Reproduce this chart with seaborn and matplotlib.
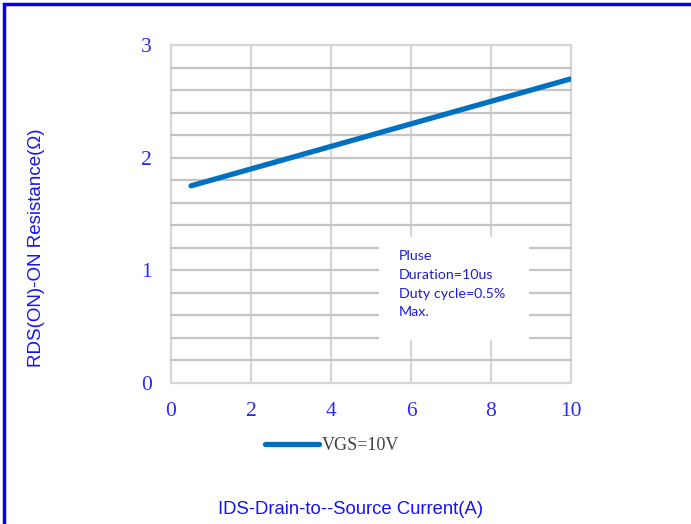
import matplotlib
matplotlib.use("Agg")
import matplotlib.pyplot as plt
import matplotlib.patches as mpatches
import pandas as pd
import seaborn as sns

# values
current = [0.5, 2, 4, 6, 8, 10]
resistance = [1.75, 1.90, 2.10, 2.30, 2.50, 2.70]
x_ticks = [0, 2, 4, 6, 8, 10]
y_ticks = [0, 1, 2, 3]
series_label = "VGS=10V"
note_lines = ["Pluse", "Duration=10us", "Duty cycle=0.5%", "Max."]

df = pd.DataFrame({"IDS": current, "RDS": resistance, "Curve": series_label})

sns.set_style("white")
plt.rcParams["font.family"] = ["Liberation Serif", "DejaVu Serif"]

fig = plt.figure(figsize=(6.91, 5.24), dpi=100)
ax = fig.add_axes([171 / 691, 1 - 383 / 524, 400 / 691, 338 / 524])

tick_blue = "#2a2af0"
label_blue = "#1414f0"

# grid
for xv in x_ticks:
    ax.axvline(xv, color="#d6d6d6", lw=1.6, zorder=0, clip_on=False)
for i in range(16):
    yv = i * 0.2
    ax.axhline(yv, color="#c4c4c4" if 0 < i < 15 else "#d6d6d6", lw=1.6, zorder=0, clip_on=False)

sns.lineplot(data=df, x="IDS", y="RDS", hue="Curve", palette=["#0070c0"],
             lw=3.8, ax=ax, zorder=3, legend=False)
ax.lines[-1].set_solid_capstyle("round")

ax.set_xlim(0, 10)
ax.set_ylim(0, 3)
ax.set_xticks(x_ticks)
ax.set_yticks(y_ticks)
ax.tick_params(axis="both", length=0, labelsize=15.5, labelcolor=tick_blue)
ax.tick_params(axis="x", pad=14)
ax.tick_params(axis="y", pad=14)
for s in ax.spines.values():
    s.set_visible(False)
ax.set_xlabel("")
ax.set_ylabel("")

# note box
ax.add_patch(mpatches.Rectangle((5.2, 0.38), 3.75, 0.92, facecolor="white",
                                edgecolor="none", zorder=2))
ax.text(5.7, 1.18, "\n".join(note_lines), ha="left", va="top", fontsize=10.3,
        color="#1f1fcf", family=["Lato", "DejaVu Sans"], linespacing=1.68, zorder=4)

# legend below the plot
handle = plt.Line2D([], [], color="#0070c0", lw=3.8, solid_capstyle="round")
fig.legend([handle], [series_label], loc="center", bbox_to_anchor=(332 / 691, 1 - 446 / 524),
           frameon=False, fontsize=13, handlelength=3.0, handletextpad=0.1,
           labelcolor="#404040")

fig.text(351 / 691, 1 - 510 / 524, "IDS-Drain-to--Source Current(A)", ha="center", va="center",
         fontsize=13.3, color=label_blue, family=["Liberation Sans", "DejaVu Sans"])
fig.text(37 / 691, 1 - 248 / 524, "RDS(ON)-ON Resistance(\u03a9)", ha="center", va="center",
         rotation=90, fontsize=13.5, color=label_blue, family=["Liberation Sans", "DejaVu Sans"])

# blue frame, cut by the right and bottom image edges
fig.patches.append(mpatches.Rectangle((4 / 691, -0.2), 2, 1 - 4 / 524 + 0.2,
                                      transform=fig.transFigure, fill=False,
                                      edgecolor="#0000ff", lw=2.5))

fig.savefig("out.png", dpi=100)
